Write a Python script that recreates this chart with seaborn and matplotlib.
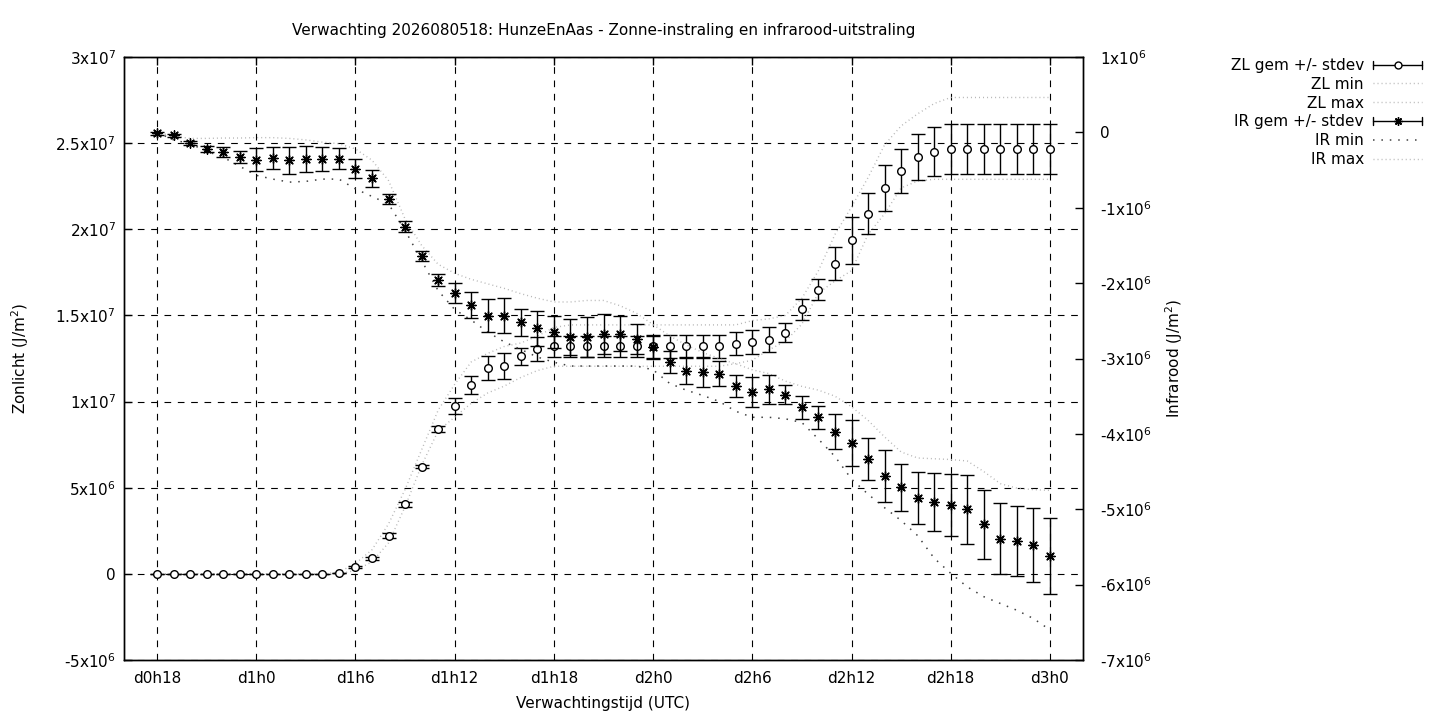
import matplotlib
matplotlib.use("Agg")
import matplotlib.pyplot as plt
import numpy as np
import pandas as pd
import seaborn as sns
from matplotlib.legend_handler import HandlerBase
from matplotlib.lines import Line2D

# uren vanaf d0h0, elk uur een verwachting
uren = list(range(18, 73))

# zonlicht (x1e6 J/m2)
zl_gem = [0.0, 0.0, 0.0, 0.0, 0.0, 0.0, 0.0, 0.0, 0.0, 0.0, 0.0, 0.05,
          0.39, 0.91, 2.22, 4.04, 6.23, 8.4, 9.75, 10.95, 11.94, 12.05, 12.63, 13.04,
          13.2, 13.2, 13.2, 13.2, 13.2, 13.2, 13.2, 13.2, 13.2, 13.2, 13.2, 13.35,
          13.45, 13.6, 14.0, 15.35, 16.5, 18.0, 19.35, 20.9, 22.4, 23.4, 24.2, 24.5,
          24.65, 24.65, 24.65, 24.65, 24.65, 24.65, 24.65]
zl_std = [0.02, 0.02, 0.02, 0.02, 0.02, 0.02, 0.02, 0.02, 0.02, 0.02, 0.02, 0.02,
          0.05, 0.08, 0.15, 0.15, 0.1, 0.19, 0.46, 0.53, 0.68, 0.75, 0.5, 0.69,
          0.62, 0.62, 0.62, 0.62, 0.62, 0.62, 0.68, 0.68, 0.68, 0.68, 0.68, 0.66,
          0.7, 0.73, 0.55, 0.61, 0.63, 0.97, 1.35, 1.2, 1.33, 1.28, 1.33, 1.42,
          1.46, 1.46, 1.46, 1.46, 1.46, 1.46, 1.46]
zl_min = [0.0, 0.0, 0.0, 0.0, 0.0, 0.0, 0.0, 0.0, 0.0, 0.0, 0.0, 0.0,
          0.2, 0.7, 1.8, 3.9, 6.3, 8.3, 9.1, 9.9, 10.5, 10.9, 11.4, 11.8,
          12.05, 12.05, 12.05, 12.05, 12.05, 12.05, 12.05, 12.05, 12.05, 12.05, 12.05, 12.2,
          12.4, 13.0, 13.5, 14.5, 16.3, 17.0, 17.6, 19.7, 20.9, 22.4, 22.8, 22.9,
          22.9, 22.9, 22.9, 22.9, 22.9, 22.9, 22.9]
zl_max = [0.0, 0.0, 0.0, 0.0, 0.0, 0.0, 0.0, 0.0, 0.0, 0.0, 0.0, 0.1,
          0.6, 1.4, 2.9, 4.9, 7.2, 9.5, 11.0, 12.3, 12.8, 13.2, 13.4, 13.8,
          14.3, 14.45, 14.45, 14.45, 14.45, 14.45, 14.45, 14.45, 14.45, 14.45, 14.45, 14.45,
          14.7, 14.8, 15.0, 16.0, 17.6, 19.7, 21.3, 23.0, 24.9, 26.0, 26.7, 27.3,
          27.65, 27.65, 27.65, 27.65, 27.65, 27.65, 27.65]

# infrarood (x1e6 J/m2)
ir_gem = [-0.01, -0.04, -0.14, -0.22, -0.26, -0.33, -0.36, -0.34, -0.37, -0.35, -0.35, -0.35,
          -0.48, -0.61, -0.89, -1.25, -1.64, -1.96, -2.13, -2.29, -2.43, -2.43, -2.52, -2.60,
          -2.65, -2.72, -2.72, -2.67, -2.67, -2.74, -2.85, -3.05, -3.16, -3.18, -3.20, -3.36,
          -3.44, -3.41, -3.48, -3.65, -3.78, -3.97, -4.12, -4.33, -4.56, -4.71, -4.85, -4.90,
          -4.94, -5.00, -5.20, -5.39, -5.42, -5.48, -5.62]
ir_std = [0.02, 0.02, 0.03, 0.04, 0.066, 0.08, 0.155, 0.14, 0.18, 0.17, 0.16, 0.14,
          0.126, 0.11, 0.066, 0.073, 0.07, 0.08, 0.137, 0.17, 0.22, 0.23, 0.18, 0.23,
          0.21, 0.24, 0.265, 0.265, 0.235, 0.2, 0.15, 0.146, 0.18, 0.2, 0.17, 0.146,
          0.2, 0.19, 0.13, 0.15, 0.15, 0.23, 0.3, 0.28, 0.34, 0.31, 0.35, 0.385,
          0.41, 0.46, 0.46, 0.47, 0.46, 0.49, 0.5]
ir_min = [0.0, -0.1, -0.15, -0.25, -0.33, -0.45, -0.57, -0.62, -0.66, -0.65, -0.62, -0.62,
          -0.75, -0.85, -0.95, -1.3, -1.7, -2.1, -2.35, -2.49, -2.65, -2.78, -2.88, -2.98,
          -3.05, -3.1, -3.1, -3.1, -3.1, -3.1, -3.15, -3.33, -3.42, -3.49, -3.57, -3.7,
          -3.78, -3.78, -3.8, -3.85, -4.07, -4.3, -4.6, -4.8, -4.98, -5.15, -5.35, -5.65,
          -5.85, -6.03, -6.16, -6.25, -6.34, -6.45, -6.6]
ir_max = [0.0, -0.05, -0.08, -0.08, -0.075, -0.075, -0.07, -0.07, -0.08, -0.1, -0.13, -0.15,
          -0.22, -0.37, -0.64, -1.15, -1.5, -1.75, -1.87, -1.95, -2.01, -2.07, -2.14, -2.2,
          -2.25, -2.25, -2.23, -2.23, -2.3, -2.4, -2.55, -2.7, -2.82, -2.92, -3.0, -3.07,
          -3.15, -3.2, -3.3, -3.37, -3.42, -3.5, -3.64, -3.82, -4.04, -4.24, -4.32, -4.33,
          -4.34, -4.36, -4.5, -4.66, -4.72, -4.74, -4.75]

x_ticks = list(range(18, 73, 6))
x_labels = ["d0h18", "d1h0", "d1h6", "d1h12", "d1h18", "d2h0", "d2h6", "d2h12", "d2h18", "d3h0"]
zl_ticks = [-5e6, 0, 5e6, 1e7, 1.5e7, 2e7, 2.5e7, 3e7]
zl_labels = ["-5x10$^{6}$", "0", "5x10$^{6}$", "1x10$^{7}$", "1.5x10$^{7}$",
             "2x10$^{7}$", "2.5x10$^{7}$", "3x10$^{7}$"]
ir_ticks = [-7e6, -6e6, -5e6, -4e6, -3e6, -2e6, -1e6, 0, 1e6]
ir_labels = ["-7x10$^{6}$", "-6x10$^{6}$", "-5x10$^{6}$", "-4x10$^{6}$", "-3x10$^{6}$",
             "-2x10$^{6}$", "-1x10$^{6}$", "0", "1x10$^{6}$"]

df = pd.DataFrame({"uur": uren,
                   "zl_gem": np.array(zl_gem) * 1e6, "zl_std": np.array(zl_std) * 1e6,
                   "zl_min": np.array(zl_min) * 1e6, "zl_max": np.array(zl_max) * 1e6,
                   "ir_gem": np.array(ir_gem) * 1e6, "ir_std": np.array(ir_std) * 1e6,
                   "ir_min": np.array(ir_min) * 1e6, "ir_max": np.array(ir_max) * 1e6})

sns.set_theme(style="white")
plt.rcParams['font.family'] = ['DejaVu Sans']
plt.rcParams['mathtext.fontset'] = 'dejavusans'
plt.rcParams['text.color'] = 'black'
plt.rcParams['axes.labelcolor'] = 'black'

licht = '#b4b4b4'
donker = '#404040'
fijn = (0, (0.7, 2.2))
grof = (0, (1, 4.5))
ster = (8, 2, 0)

fig = plt.figure(figsize=(14.4, 7.2), dpi=100)
ax = fig.add_axes([124 / 1440, 60 / 720, (1083 - 124) / 1440, (660 - 57) / 720])
ax2 = ax.twinx()

# zonlicht op linker as
sns.lineplot(data=df, x="uur", y="zl_min", ax=ax, color=licht, linestyle=fijn, lw=1)
sns.lineplot(data=df, x="uur", y="zl_max", ax=ax, color=licht, linestyle=fijn, lw=1)
ax.errorbar(df["uur"], df["zl_gem"], yerr=df["zl_std"], fmt='o', ms=5.5, mfc='white',
            mec='black', mew=1, ecolor='black', elinewidth=1, capsize=5, capthick=1, zorder=5)

# infrarood op rechter as
sns.lineplot(data=df, x="uur", y="ir_min", ax=ax2, color=donker, linestyle=grof, lw=1.1)
sns.lineplot(data=df, x="uur", y="ir_max", ax=ax2, color=licht, linestyle=fijn, lw=1)
ax2.errorbar(df["uur"], df["ir_gem"], yerr=df["ir_std"], fmt='none', ecolor='black',
             elinewidth=1, capsize=5, capthick=1, zorder=5)
sns.scatterplot(data=df, x="uur", y="ir_gem", ax=ax2, marker=ster, s=45, color='black',
                linewidth=1, edgecolor='black', zorder=6)

ax.set_xlim(16, 74)
ax.set_ylim(-5e6, 3e7)
ax2.set_ylim(-7e6, 1e6)
ax.set_xticks(x_ticks)
ax.set_xticklabels(x_labels)
ax.set_yticks(zl_ticks)
ax.set_yticklabels(zl_labels)
ax2.set_yticks(ir_ticks)
ax2.set_yticklabels(ir_labels)

ax.grid(True, color='black', linestyle=(0, (6, 6)), lw=0.8)
for a in (ax, ax2):
    for s in a.spines.values():
        s.set_color('black')
        s.set_linewidth(1)
ax.tick_params(axis='x', direction='in', length=6, width=1, top=True, pad=8,
               labelsize=11, colors='black')
ax.tick_params(axis='y', direction='in', length=6, width=1, pad=6, labelsize=11,
               colors='black')
ax2.tick_params(axis='y', direction='in', length=6, width=1, pad=12, labelsize=11,
                colors='black')

ax.set_title("Verwachting 2026080518: HunzeEnAas - Zonne-instraling en infrarood-uitstraling",
             fontsize=11, pad=16, color='black')
ax.set_xlabel("Verwachtingstijd (UTC)", fontsize=11, labelpad=7)
ax.set_ylabel("Zonlicht (J/m$^{2}$)", fontsize=11)
ax2.set_ylabel("Infrarood (J/m$^{2}$)", fontsize=11)
ax.yaxis.set_label_coords(-0.097, 0.5)
ax2.yaxis.set_label_coords(1.084, 0.5)


class FoutbalkHandler(HandlerBase):
    def create_artists(self, legend, orig_handle, xdescent, ydescent, width, height,
                       fontsize, trans):
        x0, x1 = -xdescent, -xdescent + width
        y = -ydescent + height / 2
        c = height * 0.38
        delen = [Line2D([x0, x1], [y, y], color='black', lw=1),
                 Line2D([x0, x0], [y - c, y + c], color='black', lw=1),
                 Line2D([x1, x1], [y - c, y + c], color='black', lw=1),
                 Line2D([(x0 + x1) / 2], [y], marker=orig_handle.get_marker(),
                        ms=orig_handle.get_markersize(),
                        mfc=orig_handle.get_markerfacecolor(), mec='black', mew=1,
                        ls='none')]
        for d in delen:
            d.set_transform(trans)
        return delen


zl_h = Line2D([], [], marker='o', ms=5, mfc='white', mec='black')
ir_h = Line2D([], [], marker=ster, ms=6, mfc='black', mec='black')
handles = [zl_h,
           Line2D([], [], color=licht, linestyle=fijn, lw=1),
           Line2D([], [], color=licht, linestyle=fijn, lw=1),
           ir_h,
           Line2D([], [], color=donker, linestyle=grof, lw=1.1),
           Line2D([], [], color=licht, linestyle=fijn, lw=1)]
labels = ["ZL gem +/- stdev", "ZL min", "ZL max", "IR gem +/- stdev", "IR min", "IR max"]
fig.legend(handles, labels, loc='upper right', bbox_to_anchor=(1422 / 1440, 1 - 58 / 720),
           frameon=False, markerfirst=False, fontsize=11, handlelength=3.2,
           handletextpad=0.6, labelspacing=0.25, borderaxespad=0, borderpad=0,
           handler_map={zl_h: FoutbalkHandler(), ir_h: FoutbalkHandler()})

fig.savefig("out.png", dpi=100)
